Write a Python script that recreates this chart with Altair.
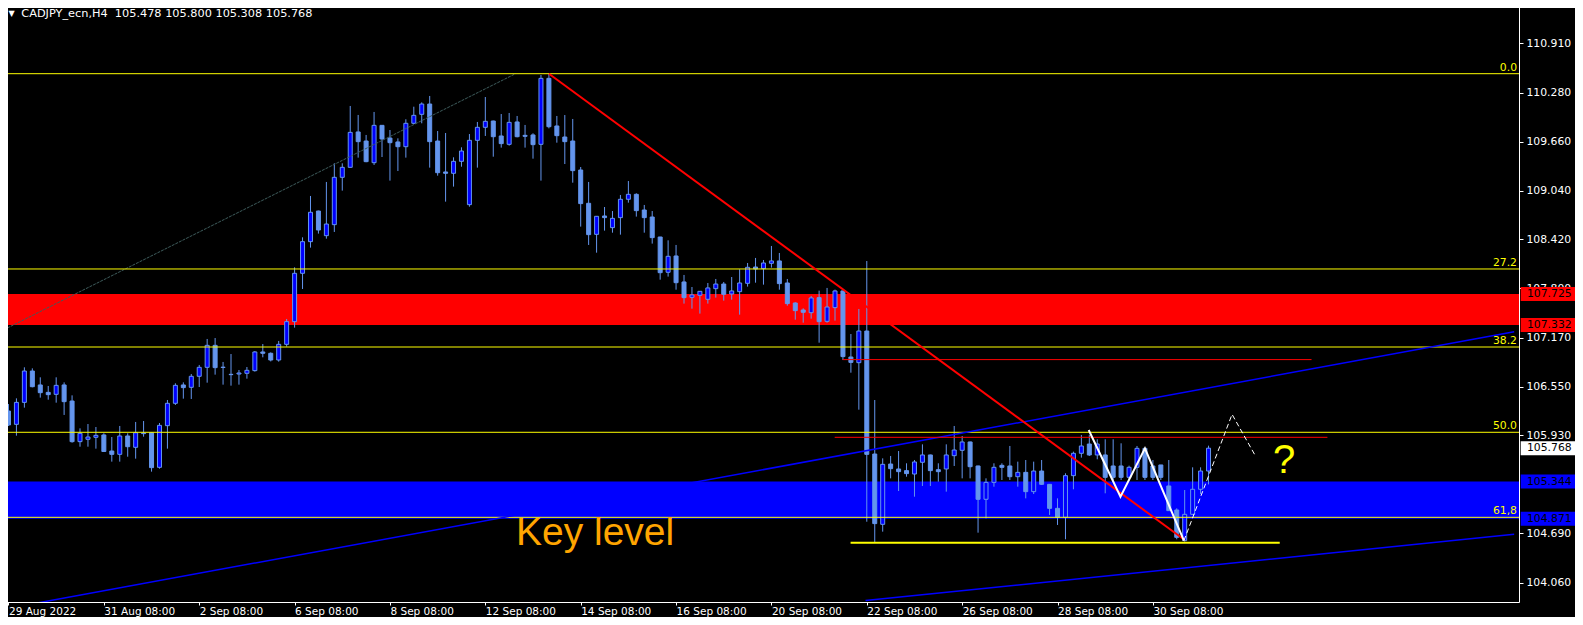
import altair as alt
import pandas as pd

# ---------------- data ----------------
opens = [106.240,106.071,106.350,106.748,106.571,106.477,106.452,106.571,106.367,105.851,
         105.881,105.906,105.936,105.732,105.690,105.923,105.779,105.961,105.965,105.525,
         106.054,106.338,106.571,106.541,106.681,106.795,107.074,106.797,106.706,106.710,
         106.719,106.753,106.990,106.973,106.888,107.087,107.375,107.989,108.391,108.780,
         108.467,108.607,109.208,109.335,109.784,109.669,109.394,109.868,109.707,109.657,
         109.597,109.894,110.008,110.139,109.669,109.276,109.259,109.411,108.861,109.678,
         109.843,109.923,109.733,109.627,109.911,109.741,109.746,109.627,110.465,109.860,
         109.720,109.669,109.301,108.878,108.484,108.717,108.569,108.696,108.929,108.992,
         108.793,108.704,108.450,108.002,108.209,107.879,107.684,107.710,107.659,107.794,
         107.853,107.726,107.756,107.862,108.069,108.048,108.116,108.146,107.866,107.612,
         107.523,107.489,107.680,107.379,107.553,107.765,106.926,106.854,107.256,105.694,
         104.801,105.567,105.504,105.483,105.440,105.589,105.682,105.495,105.504,105.673,
         105.741,105.847,105.542,105.119,105.334,105.550,105.542,105.406,105.461,105.216,
         105.478,105.309,105.004,104.890,105.419,105.703,105.821,105.682,105.682,105.542,
         105.542,105.398,105.525,105.766,105.542,105.555,105.288,104.983,104.594,104.928,
         105.246,105.478]
highs = [106.329,106.401,106.795,106.782,106.668,106.558,106.668,106.604,106.439,106.020,
         106.075,106.037,105.957,105.910,106.050,105.957,106.101,106.113,105.968,106.088,
         106.380,106.592,106.604,106.710,106.825,107.155,107.167,106.863,106.964,106.761,
         106.799,107.002,107.091,106.985,107.130,107.409,108.065,108.446,108.971,108.785,
         109.149,109.386,109.386,110.114,110.000,109.746,110.038,109.872,109.809,109.703,
         109.945,110.105,110.160,110.241,109.796,109.771,109.462,109.589,109.758,109.911,
         110.228,109.928,110.012,110.025,109.987,109.873,109.767,110.508,110.529,109.987,
         109.999,109.949,109.339,109.149,108.716,108.831,108.780,108.984,109.161,109.005,
         108.857,108.780,108.452,108.408,108.349,107.968,107.815,107.762,107.866,107.917,
         107.879,107.942,108.040,108.120,108.184,108.158,108.336,108.247,107.917,107.621,
         107.544,107.701,107.769,107.803,107.782,107.768,107.218,107.536,108.145,106.380,
         105.639,105.669,105.732,105.576,105.618,105.817,105.686,105.576,105.817,106.050,
         105.923,105.851,105.546,105.385,105.576,105.576,105.796,105.597,105.618,105.597,
         105.618,105.313,105.131,105.449,105.724,105.936,105.936,105.881,105.881,105.881,
         105.830,105.546,105.796,105.766,105.618,105.555,105.618,105.004,105.237,105.525,
         105.525,105.800]
lows = [106.050,105.927,106.283,106.541,106.410,106.384,106.346,106.190,105.838,105.787,
        105.787,105.762,105.724,105.597,105.597,105.660,105.635,105.914,105.470,105.508,
        105.762,106.317,106.397,106.393,106.545,106.600,106.702,106.575,106.562,106.575,
        106.651,106.740,106.922,106.870,106.867,107.058,107.299,107.790,108.315,108.493,
        108.429,108.514,109.039,109.330,109.458,109.400,109.365,109.466,109.166,109.288,
        109.458,109.885,109.894,109.331,109.229,108.899,109.090,109.343,108.835,109.331,
        109.733,109.470,109.585,109.610,109.716,109.585,109.445,109.166,109.830,109.648,
        109.377,109.140,108.582,108.349,108.251,108.531,108.505,108.480,108.886,108.709,
        108.505,108.366,107.908,107.947,107.781,107.604,107.540,107.477,107.604,107.680,
        107.642,107.654,107.464,107.820,107.870,107.845,108.061,107.781,107.578,107.400,
        107.362,107.413,107.108,107.362,107.388,106.888,106.727,106.257,104.834,104.577,
        104.708,105.385,105.224,105.406,105.152,105.288,105.288,105.343,105.216,105.542,
        105.385,105.385,104.695,104.877,105.279,105.364,105.364,105.279,105.131,105.186,
        105.301,104.920,104.793,104.611,105.246,105.648,105.669,105.627,105.195,105.364,
        105.364,105.364,105.364,105.364,105.364,105.364,104.975,104.611,104.581,104.920,
        105.186,105.308]
closes = [106.063,106.350,106.748,106.549,106.473,106.448,106.566,106.359,105.851,105.957,
          105.910,105.931,105.726,105.690,105.923,105.787,105.965,105.953,105.521,106.058,
          106.338,106.566,106.537,106.681,106.795,107.074,106.791,106.793,106.702,106.723,
          106.757,106.990,106.973,106.888,107.087,107.375,107.989,108.391,108.764,108.539,
          108.615,109.208,109.335,109.779,109.661,109.407,109.868,109.695,109.648,109.597,
          109.894,109.995,110.139,109.661,109.267,109.259,109.411,109.542,109.678,109.843,
          109.919,109.724,109.636,109.906,109.724,109.729,109.623,110.465,109.851,109.737,
          109.661,109.293,108.874,108.480,108.713,108.696,108.687,108.929,108.992,108.785,
          108.696,108.442,107.997,108.205,107.870,107.680,107.714,107.760,107.803,107.853,
          107.722,107.765,107.866,108.065,108.044,108.120,108.146,107.858,107.604,107.515,
          107.494,107.676,107.375,107.561,107.765,106.931,106.858,107.256,105.690,104.810,
          105.563,105.508,105.470,105.445,105.593,105.682,105.483,105.470,105.682,105.745,
          105.847,105.533,105.119,105.334,105.525,105.525,105.406,105.461,105.216,105.478,
          105.309,105.004,104.890,105.419,105.703,105.796,105.682,105.821,105.398,105.398,
          105.398,105.525,105.766,105.398,105.398,105.398,104.975,104.636,104.928,105.246,
          105.478,105.768]

tick_bars = [0, 12, 24, 36, 48, 60, 72, 84, 96, 108, 120, 132, 144]
tick_labels = ["29 Aug 2022", "31 Aug 08:00", "2 Sep 08:00", "6 Sep 08:00", "8 Sep 08:00",
               "12 Sep 08:00", "14 Sep 08:00", "16 Sep 08:00", "20 Sep 08:00", "22 Sep 08:00",
               "26 Sep 08:00", "28 Sep 08:00", "30 Sep 08:00"]
# 105.310 sits under the blue price box in the reference, so it is not shown
price_ticks = [104.060, 104.690, 105.930, 106.550, 107.170, 107.800,
               108.420, 109.040, 109.660, 110.280, 110.910]

fib_prices = [110.524, 108.044, 107.053, 105.970, 104.890]
fib_labels = ["0.0", "27.2", "38.2", "50.0", "61,8"]

zone_lo = [107.332, 104.871]
zone_hi = [107.725, 105.344]
zone_color = ["#FF0000", "#0000FF"]

box_prices = [107.725, 107.332, 105.768, 105.344, 104.871]
box_fill = ["#FF0000", "#FF0000", "#FFFFFF", "#0000FF", "#0000FF"]

# horizontal segments: start bar, end bar, price, color, width
seg_start = [104.96, 103.96, 105.96]
seg_end = [163.96, 165.96, 159.96]
seg_price = [106.893, 105.906, 104.568]
seg_color = ["#FF0000", "#FF0000", "#FFFF00"]
seg_width = [1, 1, 2]

# sloped lines: id, bar, price
fibtrend_bar = [-0.16, 63.8]
fibtrend_price = [107.294, 110.524]
chan_id = ["up", "up", "low", "low"]
chan_bar = [0.0, 189.46, 107.84, 189.46]
chan_price = [103.735, 107.247, 103.833, 104.674]
redtrend_bar = [68.0, 148.0]
redtrend_price = [110.524, 104.602]
zig_bar = [135.92, 139.92, 143.0, 147.9]
zig_price = [105.999, 105.152, 105.767, 104.593]
proj_bar = [147.9, 153.96, 156.84]
proj_price = [104.593, 106.198, 105.681]

title_text = "CADJPY_ecn,H4\u00a0\u00a0105.478 105.800 105.308 105.768"

# ---------------- layout ----------------
W = 1517
H = 602
X_DOMAIN = [-0.1875, 189.4375]
Y_DOMAIN = [103.8146, 111.460]
FONT = "DejaVu Sans"
CANDLE = "#6495ED"

label_expr = "[" + ",".join("'" + t + "'" for t in tick_labels) + "][round(datum.value/12)]"
x_axis = alt.Axis(values=tick_bars, labelExpr=label_expr, title=None, grid=False,
                  domainColor="white", tickColor="white", tickSize=3, labelColor="white",
                  labelFont=FONT, labelFontSize=10.5, labelAlign="left", labelBaseline="top",
                  labelPadding=1, labelOverlap=False, orient="bottom")
y_axis = alt.Axis(values=price_ticks, format=".3f", title=None, grid=False, orient="right",
                  domainColor="white", tickColor="white", tickSize=4, labelColor="white",
                  labelFont=FONT, labelFontSize=10.8, labelPadding=3, labelOverlap=False,
                  labelBaseline="middle")


def X(field):
    return alt.X(field, type="quantitative",
                 scale=alt.Scale(domain=X_DOMAIN, nice=False, zero=False), axis=x_axis)


def Y(field):
    return alt.Y(field, type="quantitative",
                 scale=alt.Scale(domain=Y_DOMAIN, nice=False, zero=False), axis=y_axis)


n = len(opens)
candles = pd.DataFrame({"bar": list(range(n)), "open": opens, "high": highs,
                        "low": lows, "close": closes})
candles["fill"] = ["#0000FF" if c >= o else CANDLE for o, c in zip(opens, closes)]

zones = alt.Chart(pd.DataFrame({"lo": zone_lo, "hi": zone_hi, "c": zone_color})).mark_rect().encode(
    x=alt.value(0), x2=alt.value(W), y=Y("lo"), y2="hi", color=alt.Color("c:N", scale=None))

wicks = alt.Chart(candles).mark_rule(color=CANDLE, strokeWidth=1).encode(
    x=X("bar"), y=Y("low"), y2="high")

bodies = alt.Chart(candles).mark_bar(size=4, stroke=CANDLE, strokeWidth=1).encode(
    x=X("bar"), y=Y("open"), y2="close", fill=alt.Fill("fill:N", scale=None))

fibtrend = alt.Chart(pd.DataFrame({"bar": fibtrend_bar, "p": fibtrend_price})).mark_line(
    color="#3E5C5C", strokeWidth=1, strokeDash=[3, 1], clip=True).encode(x=X("bar"), y=Y("p"))

fiblines = alt.Chart(pd.DataFrame({"p": fib_prices})).mark_rule(color="#FFFF00", strokeWidth=1).encode(
    x=alt.value(0), x2=alt.value(W), y=Y("p"))

fibtext = alt.Chart(pd.DataFrame({"p": fib_prices, "t": fib_labels})).mark_text(
    align="right", baseline="bottom", dy=-1, color="#FFFF00", font=FONT, fontSize=10.8).encode(
    x=alt.value(W - 2), y=Y("p"), text="t:N")

channels = alt.Chart(pd.DataFrame({"id": chan_id, "bar": chan_bar, "p": chan_price})).mark_line(
    color="#0000FF", strokeWidth=1.5, clip=True).encode(x=X("bar"), y=Y("p"), detail="id:N")

segs = alt.Chart(pd.DataFrame({"s": seg_start, "e": seg_end, "p": seg_price, "c": seg_color,
                               "w": seg_width})).mark_rule().encode(
    x=X("s"), x2="e", y=Y("p"), color=alt.Color("c:N", scale=None),
    strokeWidth=alt.StrokeWidth("w:Q", scale=None))

redtrend = alt.Chart(pd.DataFrame({"bar": redtrend_bar, "p": redtrend_price})).mark_line(
    color="#FF0000", strokeWidth=2).encode(x=X("bar"), y=Y("p"))

zigzag = alt.Chart(pd.DataFrame({"bar": zig_bar, "p": zig_price})).mark_line(
    color="#FFFFFF", strokeWidth=2).encode(x=X("bar"), y=Y("p"), order="bar:Q")

proj = alt.Chart(pd.DataFrame({"bar": proj_bar, "p": proj_price})).mark_line(
    color="#FFFFFF", strokeWidth=1, strokeDash=[5, 3]).encode(x=X("bar"), y=Y("p"), order="bar:Q")

keylevel = alt.Chart(pd.DataFrame({"bar": [63.85], "p": [104.538], "t": ["Key level"]})).mark_text(
    align="left", baseline="alphabetic", color="#FFA500", font="Liberation Sans", fontSize=39).encode(
    x=X("bar"), y=Y("p"), text="t:N")

qmark = alt.Chart(pd.DataFrame({"bar": [160.5], "p": [105.457], "t": ["?"]})).mark_text(
    align="center", baseline="alphabetic", color="#FFFF00", font="Liberation Sans", fontSize=40).encode(
    x=X("bar"), y=Y("p"), text="t:N")

title_mark = alt.Chart(pd.DataFrame({"t": [title_text]})).mark_text(
    align="left", baseline="middle", color="white", font=FONT, fontSize=11.3).encode(
    x=alt.value(19.3), y=alt.value(14.0), text="t:N")
arrow_mark = alt.Chart(pd.DataFrame({"t": ["\u25BC"]})).mark_text(
    align="left", baseline="middle", color="white", font=FONT, fontSize=8).encode(
    x=alt.value(6.5), y=alt.value(13.5), text="t:N")

boxes = alt.Chart(pd.DataFrame({"p": box_prices, "c": box_fill})).mark_rect(
    yOffset=-7, y2Offset=7).encode(
    x=alt.value(W + 1.7), x2=alt.value(W + 57.7), y=Y("p"), y2="p", color=alt.Color("c:N", scale=None))
boxtext = alt.Chart(pd.DataFrame({"p": box_prices})).mark_text(
    align="left", baseline="middle", color="black", font=FONT, fontSize=10.8).encode(
    x=alt.value(W + 8), y=Y("p"), text=alt.Text("p:Q", format=".3f"))

chart = alt.layer(
    zones, wicks, bodies, fibtrend, fiblines, channels, segs, redtrend, zigzag, proj,
    fibtext, keylevel, qmark, title_mark, arrow_mark, boxes, boxtext
).properties(
    width=W, height=H,
    padding={"left": -6, "top": -8, "right": 56, "bottom": 15},
    autosize=alt.AutoSizeParams(type="none"),
).configure(background="black").configure_view(stroke=None)

chart.save("out.html", embed_options={"renderer": "svg", "actions": False})
